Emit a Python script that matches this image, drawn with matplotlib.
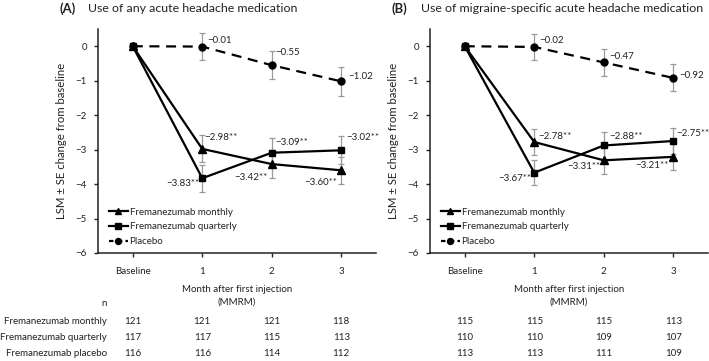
import matplotlib
matplotlib.use("Agg")
import matplotlib.pyplot as plt
from matplotlib.lines import Line2D
from matplotlib.transforms import blended_transform_factory

plt.rcParams['font.family'] = ['Lato', 'DejaVu Sans']

# ---------------- data ----------------
x_labels = ["Baseline", "1", "2", "3"]
months = [0, 1, 2, 3]

a_monthly = [0, -2.98, -3.42, -3.60]
a_quarterly = [0, -3.83, -3.09, -3.02]
a_placebo = [0, -0.01, -0.55, -1.02]
a_monthly_se = [0, 0.39, 0.40, 0.40]
a_quarterly_se = [0, 0.39, 0.42, 0.41]
a_placebo_se = [0, 0.39, 0.41, 0.41]

b_monthly = [0, -2.78, -3.31, -3.21]
b_quarterly = [0, -3.67, -2.88, -2.75]
b_placebo = [0, -0.02, -0.47, -0.92]
b_monthly_se = [0, 0.37, 0.39, 0.38]
b_quarterly_se = [0, 0.36, 0.38, 0.39]
b_placebo_se = [0, 0.38, 0.38, 0.39]

a_labels_monthly = ["", "\u22122.98**", "\u22123.42**", "\u22123.60**"]
a_labels_quarterly = ["", "\u22123.83**", "\u22123.09**", "\u22123.02**"]
a_labels_placebo = ["", "\u22120.01", "\u22120.55", "\u22121.02"]
b_labels_monthly = ["", "\u22122.78**", "\u22123.31**", "\u22123.21**"]
b_labels_quarterly = ["", "\u22123.67**", "\u22122.88**", "\u22122.75**"]
b_labels_placebo = ["", "\u22120.02", "\u22120.47", "\u22120.92"]

series_names = ["Fremanezumab monthly", "Fremanezumab quarterly", "Placebo"]
row_names = ["Fremanezumab monthly", "Fremanezumab quarterly", "Fremanezumab placebo"]
a_n_monthly = [121, 121, 121, 118]
a_n_quarterly = [117, 117, 115, 113]
a_n_placebo = [116, 116, 114, 112]
b_n_monthly = [115, 115, 115, 113]
b_n_quarterly = [110, 110, 109, 107]
b_n_placebo = [113, 113, 111, 109]

titles = [("(A)", "Use of any acute headache medication"),
          ("(B)", "Use of migraine-specific acute headache medication")]

# ---------------- style / layout ----------------
W, H = 709, 361
fig = plt.figure(figsize=(W / 100, H / 100), dpi=100)
TXT = '#222222'

def px_axes(l, t, w, h):
    return fig.add_axes([l / W, 1 - (t + h) / H, w / W, h / H])

ax_a = px_axes(98, 29, 278, 224)
ax_b = px_axes(430, 29, 278, 224)

# text offsets (pixels): (dx, dy, ha) ; dy positive = up
off_a_monthly = [None, (2, 11, 'left'), (-4, -13, 'right'), (-4, -12, 'right')]
off_a_quarterly = [None, (-3, -5, 'right'), (4, 10, 'left'), (5, 13, 'left')]
off_a_placebo = [None, (5, 6, 'left'), (4, 13, 'left'), (7, 5, 'left')]
off_b_monthly = [None, (4, 6, 'left'), (-3, -6, 'right'), (-5, -9, 'right')]
off_b_quarterly = [None, (-3, -6, 'right'), (5, 9, 'left'), (3, 7, 'left')]
off_b_placebo = [None, (5, 6, 'left'), (6, 6, 'left'), (6, 2, 'left')]

FS_ANN = 7.0
FS_TICK = 7.0
FS_TAB = 7.0
LW = 1.6

def draw(ax, monthly, quarterly, placebo, mse, qse, pse, lm, lq, lp, om, oq, op):
    ecol = '#9a9a9a'
    for y, se in ((placebo, pse), (monthly, mse), (quarterly, qse)):
        xs = [m for m, s in zip(months, se) if s > 0]
        ys = [v for v, s in zip(y, se) if s > 0]
        es = [s for s in se if s > 0]
        ax.errorbar(xs, ys, yerr=es, fmt='none', ecolor=ecol, elinewidth=0.9,
                    capsize=2.2, capthick=0.9, zorder=2)
    ax.plot(months, placebo, color='black', lw=LW, ls=(0, (4.5, 3)), marker='o',
            ms=5, zorder=3)
    ax.plot(months, monthly, color='black', lw=LW, marker='^', ms=5.5, zorder=4)
    ax.plot(months, quarterly, color='black', lw=LW, marker='s', ms=5, zorder=4)

    for vals, labs, offs in ((monthly, lm, om), (quarterly, lq, oq), (placebo, lp, op)):
        for m, v, lab, o in zip(months, vals, labs, offs):
            if not lab:
                continue
            dx, dy, ha = o
            ax.annotate(lab, (m, v), xytext=(dx, dy), textcoords='offset pixels',
                        ha=ha, va='center', fontsize=FS_ANN, color=TXT)

    ax.set_xlim(-0.5, 3.5)
    ax.set_ylim(-6, 0.5)
    ax.set_yticks([0, -1, -2, -3, -4, -5, -6])
    ax.set_yticklabels(['0', '\u22121', '\u22122', '\u22123', '\u22124', '\u22125', '\u22126'])
    ax.set_xticks(months)
    ax.set_xticklabels(x_labels)
    ax.tick_params(axis='both', direction='out', length=3, width=1, labelsize=FS_TICK,
                   colors=TXT)
    ax.tick_params(axis='x', pad=7)
    ax.tick_params(axis='y', pad=5)
    for s in ('top', 'right'):
        ax.spines[s].set_visible(False)
    for s in ('left', 'bottom'):
        ax.spines[s].set_linewidth(1.1)
        ax.spines[s].set_color(TXT)
    ax.set_ylabel('LSM \u00b1 SE change from baseline', fontsize=8.2, labelpad=6, color=TXT)

    handles = [Line2D([], [], color='black', lw=LW, marker='^', ms=4.7),
               Line2D([], [], color='black', lw=LW, marker='s', ms=4.3),
               Line2D([], [], color='black', lw=LW, marker='o', ms=4.3,
                      ls=(0.6, (2.6, 1.4)))]
    leg = ax.legend(handles, series_names,
                    loc='lower left', bbox_to_anchor=(0.04, 0.03), frameon=False,
                    fontsize=FS_TAB, handlelength=1.9, handletextpad=0.2,
                    labelspacing=0.6, borderpad=0, borderaxespad=0)
    for t in leg.get_texts():
        t.set_color(TXT)

draw(ax_a, a_monthly, a_quarterly, a_placebo, a_monthly_se, a_quarterly_se, a_placebo_se,
     a_labels_monthly, a_labels_quarterly, a_labels_placebo,
     off_a_monthly, off_a_quarterly, off_a_placebo)
draw(ax_b, b_monthly, b_quarterly, b_placebo, b_monthly_se, b_quarterly_se, b_placebo_se,
     b_labels_monthly, b_labels_quarterly, b_labels_placebo,
     off_b_monthly, off_b_quarterly, off_b_placebo)

# titles
FS_TITLE = 8.9
fig.text(59 / W, 1 - 9 / H, titles[0][0], fontsize=9.4, fontweight='bold', va='center',
         ha='left', color=TXT)
fig.text(88 / W, 1 - 9 / H, titles[0][1], fontsize=FS_TITLE, va='center', ha='left', color=TXT)
fig.text(391 / W, 1 - 9 / H, titles[1][0], fontsize=9.4, fontweight='bold', va='center',
         ha='left', color=TXT)
fig.text(421 / W, 1 - 9 / H, titles[1][1], fontsize=FS_TITLE, va='center', ha='left', color=TXT)

# x axis titles
for ax in (ax_a, ax_b):
    tr = blended_transform_factory(ax.transAxes, fig.transFigure)
    ax.text(0.5, 1 - 289 / H, 'Month after first injection', transform=tr, ha='center',
            va='center', fontsize=FS_TAB, color=TXT)
    ax.text(0.5, 1 - 302 / H, '(MMRM)', transform=tr, ha='center', va='center',
            fontsize=FS_TAB, color=TXT)

# n table
fig.text(104 / W, 1 - 304 / H, 'n', ha='center', va='center', fontsize=FS_TAB, color=TXT)
row_y = [321, 338, 354]
for name, yy in zip(row_names, row_y):
    fig.text(107 / W, 1 - yy / H, name, ha='right', va='center', fontsize=FS_TAB, color=TXT)
for ax, rows in ((ax_a, (a_n_monthly, a_n_quarterly, a_n_placebo)),
                 (ax_b, (b_n_monthly, b_n_quarterly, b_n_placebo))):
    tr = blended_transform_factory(ax.transData, fig.transFigure)
    for vals, yy in zip(rows, row_y):
        for m, v in zip(months, vals):
            ax.text(m, 1 - yy / H, str(v), transform=tr, ha='center', va='center',
                    fontsize=FS_TAB, color=TXT)

fig.savefig('out.png', dpi=100)
